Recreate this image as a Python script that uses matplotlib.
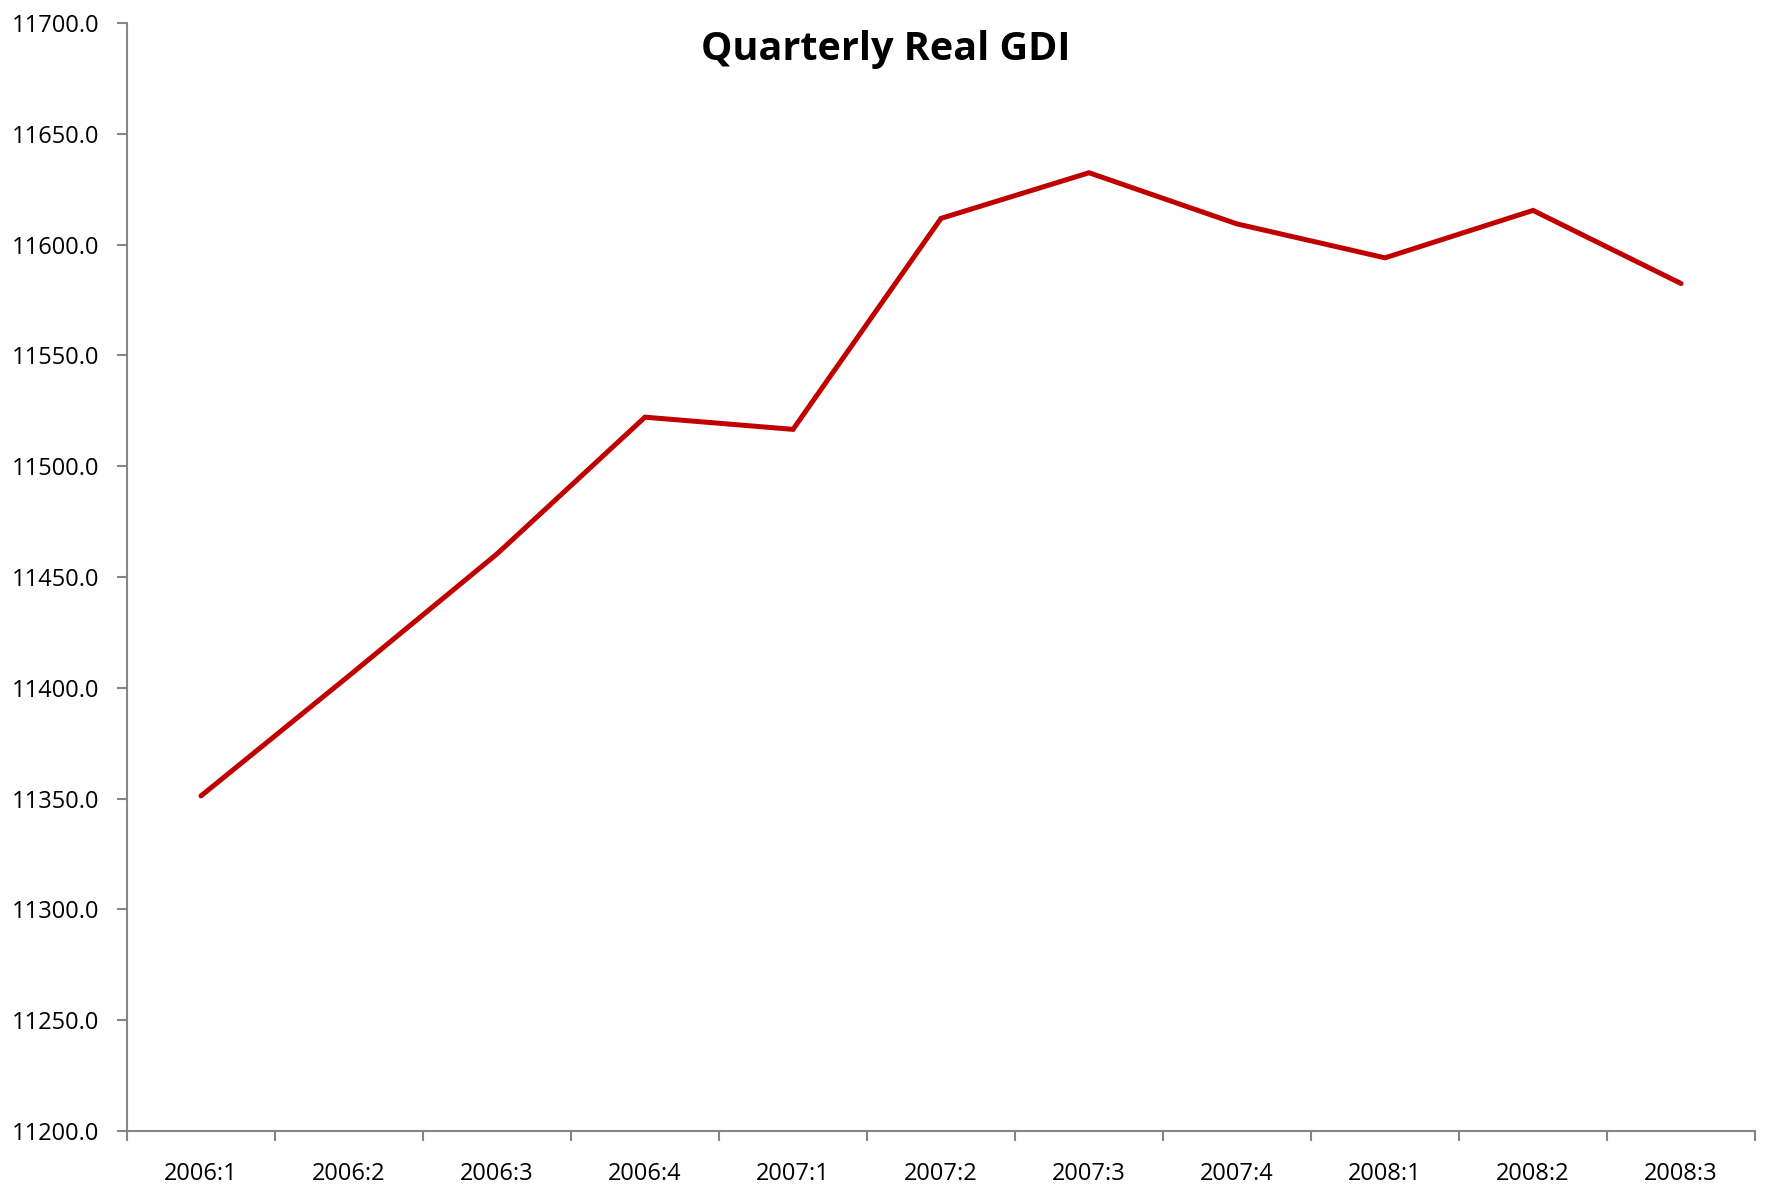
import matplotlib as mpl
mpl.use('Agg')
import matplotlib.pyplot as plt
import numpy as np

quarters = ['2006:1', '2006:2', '2006:3', '2006:4', '2007:1', '2007:2',
            '2007:3', '2007:4', '2008:1', '2008:2', '2008:3']
real_gdi = [11351.2, 11405.4, 11460.4, 11522.1, 11516.6, 11611.8,
            11632.4, 11609.3, 11594.0, 11615.4, 11582.4]
y_ticks = np.arange(11200, 11701, 50)

plt.rcParams['font.family'] = ['Open Sans', 'DejaVu Sans']

fig = plt.figure(figsize=(17.71, 11.88), dpi=100, facecolor='white')
ax = fig.add_axes([0.0717, 0.048, 0.9193, 0.9327])

x = np.arange(len(quarters))
ax.plot(x, real_gdi, color='#C00000', linewidth=3.6, solid_capstyle='round',
        solid_joinstyle='miter')

ax.set_xlim(-0.5, len(quarters) - 0.5)
ax.set_ylim(11200, 11700)
ax.set_yticks(y_ticks)
ax.set_yticklabels([f'{v:.1f}' for v in y_ticks])
ax.set_xticks(x)
ax.set_xticklabels(quarters)
ax.set_xticks(np.arange(-0.5, len(quarters), 1), minor=True)

ax.tick_params(axis='x', which='major', length=0, pad=22, labelsize=17)
ax.tick_params(axis='x', which='minor', length=7, width=1.5, color='#868686')
ax.tick_params(axis='y', length=7, width=1.5, color='#868686', labelsize=17, pad=13)

for side in ['top', 'right']:
    ax.spines[side].set_visible(False)
for side in ['left', 'bottom']:
    ax.spines[side].set_color('#868686')
    ax.spines[side].set_linewidth(1.5)

fig.text(0.5, 0.958, 'Quarterly Real GDI', ha='center', va='center',
         fontsize=28.5, fontweight='bold')

fig.savefig('out.png', dpi=100, facecolor='white')
